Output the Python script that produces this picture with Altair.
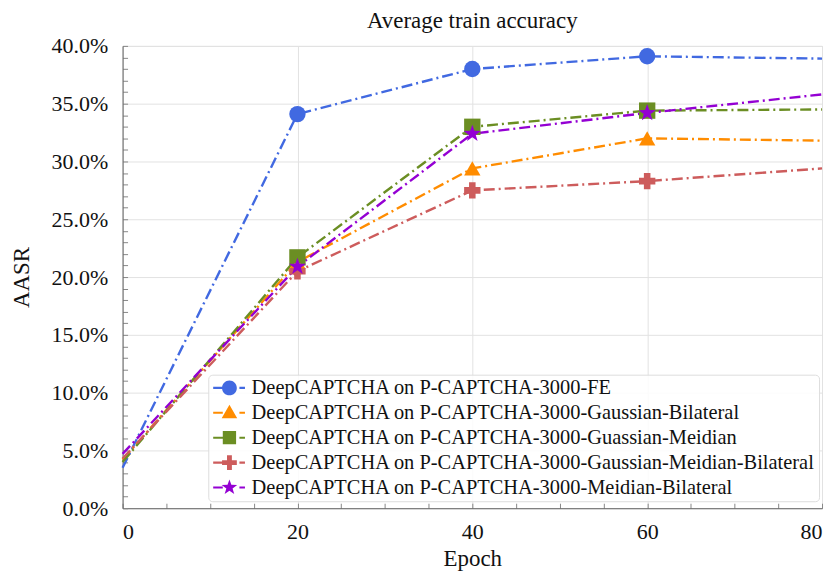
import altair as alt
import pandas as pd

series_names = [
    "DeepCAPTCHA on P-CAPTCHA-3000-FE",
    "DeepCAPTCHA on P-CAPTCHA-3000-Gaussian-Bilateral",
    "DeepCAPTCHA on P-CAPTCHA-3000-Guassian-Meidian",
    "DeepCAPTCHA on P-CAPTCHA-3000-Gaussian-Meidian-Bilateral",
    "DeepCAPTCHA on P-CAPTCHA-3000-Meidian-Bilateral",
]
epochs = [0, 20, 40, 60, 80]
fe = [0.035, 0.341, 0.380, 0.391, 0.389]
gauss_bil = [0.042, 0.213, 0.294, 0.320, 0.318]
gauss_med = [0.040, 0.217, 0.330, 0.344, 0.345]
gauss_med_bil = [0.043, 0.205, 0.275, 0.283, 0.294]
med_bil = [0.047, 0.209, 0.324, 0.342, 0.358]
colors = ["#4169E1", "#FF8C00", "#6B8E23", "#CD5C5C", "#9400D3"]
star = ("M0,-1.1 L0.26,-0.36 L1.05,-0.34 L0.42,0.14 L0.65,0.89 L0,0.44 "
        "L-0.65,0.89 L-0.42,0.14 L-1.05,-0.34 L-0.26,-0.36 Z")
shapes = ["circle", "triangle-up", "square", "cross", star]

# legend glyphs: marker + short dash-dot line segment
seg = " M-2.2,-0.14 L-0.9,-0.14 L-0.9,0.14 L-2.2,0.14 Z M1.35,-0.14 L2.1,-0.14 L2.1,0.14 L1.35,0.14 Z"
legend_paths = [
    "M1,0 A1,1,0,1,1,-1,0 A1,1,0,1,1,1,0 Z" + seg,
    "M0,-1.1 L1.05,0.75 L-1.05,0.75 Z" + seg,
    "M-0.9,-0.9 L0.9,-0.9 L0.9,0.9 L-0.9,0.9 Z" + seg,
    ("M-0.33,-1 L0.33,-1 L0.33,-0.33 L1,-0.33 L1,0.33 L0.33,0.33 L0.33,1 "
     "L-0.33,1 L-0.33,0.33 L-1,0.33 L-1,-0.33 L-0.33,-0.33 Z") + seg,
    star + seg,
]

y_ticks = [round(i * 0.01, 2) for i in range(41)]
x_ticks = list(range(0, 81, 5))

rows = []
for name, marker, vals in zip(series_names, shapes,
                              [fe, gauss_bil, gauss_med, gauss_med_bil, med_bil]):
    for e, v in zip(epochs, vals):
        rows.append({"series": name, "marker": marker, "epoch": e, "value": v})
df = pd.DataFrame(rows)

FONT = "Liberation Serif, Times New Roman, Times, serif"

x = alt.X(
    "epoch:Q",
    scale=alt.Scale(domain=[0, 80], nice=False),
    axis=alt.Axis(
        title="Epoch",
        values=x_ticks,
        labelExpr="datum.value % 20 === 0 ? datum.label : ''",
        labelOverlap=False,
        gridOpacity={"condition": {"test": "datum.value % 20 === 0", "value": 1}, "value": 0},
        tickSize=alt.ExprRef("-5"),
        labelPadding=18,
        titleY=58,
        titleBaseline="alphabetic",
    ),
)
y = alt.Y(
    "value:Q",
    scale=alt.Scale(domain=[0, 0.4], nice=False),
    axis=alt.Axis(
        title="AASR",
        values=y_ticks,
        labelExpr="round(datum.value * 100) % 5 === 0 ? format(datum.value, '.1%') : ''",
        labelOverlap=False,
        gridOpacity={"condition": {"test": "round(datum.value * 100) % 5 === 0", "value": 1}, "value": 0},
        tickSize=alt.ExprRef("-5"),
        labelPadding=20,
        titleX=-101,
        titleY=232,
        titleBaseline="middle",
    ),
)
color = alt.Color(
    "series:N",
    scale=alt.Scale(domain=series_names, range=colors),
    legend=alt.Legend(
        title=None,
        orient="none",
        legendX=86,
        legendY=330,
        labelFont=FONT,
        labelFontSize=20.5,
        labelColor="#111",
        labelLimit=0,
        symbolSize=220,
        symbolStrokeWidth=0,
        symbolOffset=8,
        labelOffset=12,
        rowPadding=4,
        padding=3,
        fillColor="rgba(255,255,255,0.85)",
        strokeColor="#dddddd",
        cornerRadius=4,
    ),
)

# legend-only layer (no rows drawn): marker + dash-dot segment glyphs
legend_layer = alt.Chart(df).transform_filter("false").mark_point(
    filled=True, opacity=1
).encode(
    x=x,
    y=y,
    color=color,
    shape=alt.Shape("series:N", scale=alt.Scale(domain=series_names, range=legend_paths), legend=None),
)
lines = alt.Chart(df).mark_line(strokeWidth=2.4, strokeDash=[11, 4, 2, 4]).encode(
    x=x, y=y, color=color, detail="series:N",
)
points = alt.Chart(df).transform_filter(
    "datum.epoch > 0 && datum.epoch < 80"
).mark_point(filled=True, opacity=1, size=270).encode(
    x=x,
    y=y,
    color=color,
    shape=alt.Shape("marker:N", scale=None),
)

chart = alt.layer(legend_layer, lines, points).properties(
    width=702,
    height=464,
    title=alt.TitleParams("Average train accuracy", font=FONT, fontSize=23,
                          fontWeight="normal", offset=2, color="#111"),
    autosize=alt.AutoSizeParams(type="none"),
    padding={"left": 115, "top": 37, "right": 8, "bottom": 66},
).configure_axis(
    labelFont=FONT,
    labelFontSize=22,
    labelColor="#111",
    titleFont=FONT,
    titleFontSize=23,
    titleFontWeight="normal",
    titleColor="#111",
    gridColor="#e2e2e2",
    domainColor="#666",
    tickColor="#888",
).configure_view(stroke="#dddddd")

chart.save("out.html", embed_options={"renderer": "svg", "actions": False})
